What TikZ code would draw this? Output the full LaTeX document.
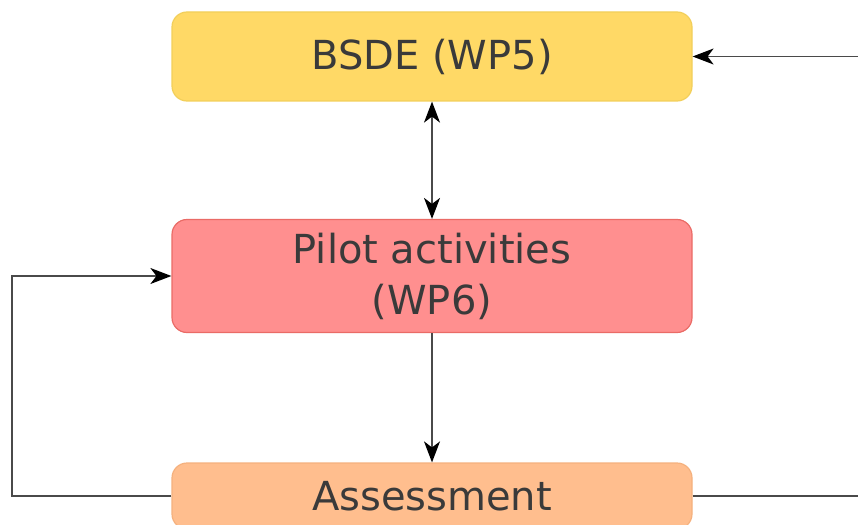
\documentclass[tikz,border=0pt]{standalone}
\usepackage{fontspec}
\setmainfont{DejaVu Sans}
\usetikzlibrary{arrows.meta}
\definecolor{txt}{HTML}{3A3A3A}
\definecolor{ylwfill}{HTML}{FFD966}
\definecolor{ylwdraw}{HTML}{F2CF5B}
\definecolor{redfill}{HTML}{FF8F8F}
\definecolor{reddraw}{HTML}{EA6B66}
\definecolor{orgfill}{HTML}{FFBE8E}
\definecolor{orgdraw}{HTML}{F5B17E}
\definecolor{linec}{HTML}{4A4A4A}
\tikzset{tipA/.tip={Stealth[length=21pt,width=16pt,inset=6pt,color=black]}}
\begin{document}
\begin{tikzpicture}[x=1pt,y=-1pt,
  wpbox/.style={rounded corners=15pt, line width=1.2pt, minimum width=520pt,
    text=txt, align=center, inner sep=0pt,
    font=\fontsize{40}{51}\selectfont},
  conn/.style={draw=linec, line width=1.4pt, -tipA},
  connboth/.style={draw=linec, line width=1.4pt, tipA-tipA}]
\useasboundingbox (0,0) rectangle (858,524);
\node[wpbox, fill=ylwfill, draw=ylwdraw, minimum height=89pt] (bsde) at (432,56.5) {BSDE (WP5)};
\node[wpbox, fill=redfill, draw=reddraw, minimum height=113pt] (pilot) at (432,276) {Pilot activities\\(WP6)};
\node[wpbox, fill=orgfill, draw=orgdraw, minimum height=66pt] (assess) at (432,496) {Assessment};
\coordinate (lc) at (12,496);
\coordinate (rc) at (861,496);
\draw[connboth] (bsde.south) -- (pilot.north);
\draw[conn] (pilot.south) -- (assess.north);
\draw[conn] (assess.west) -- (lc) |- (pilot.west);
\draw[conn] (assess.east) -- (rc) |- (bsde.east);
\end{tikzpicture}
\end{document}
